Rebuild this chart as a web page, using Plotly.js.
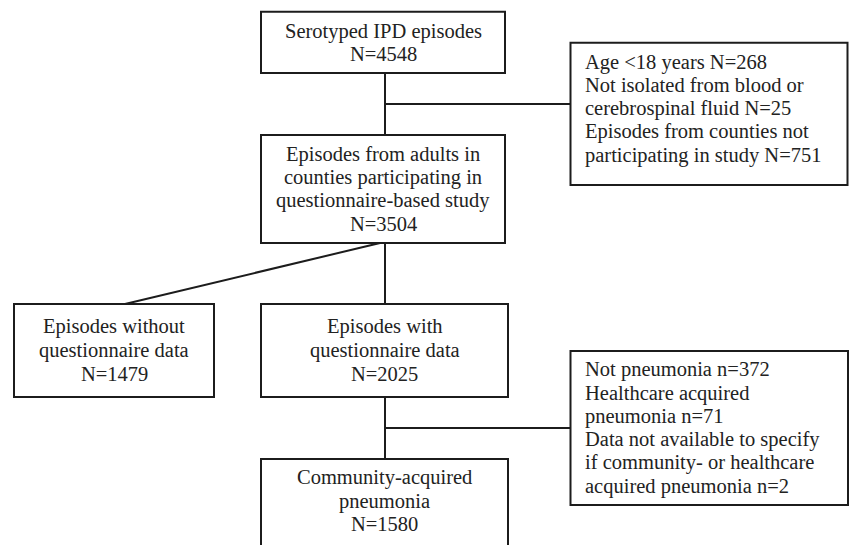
<!DOCTYPE html>
<html>
<head>
<meta charset="utf-8">
<script src="https://cdn.plot.ly/plotly-3.0.1.min.js"></script>
<style>html,body{margin:0;padding:0;background:#fff;}#chart{width:851px;height:545px;}</style>
</head>
<body>
<div id="chart"></div>
<script>
// ---- Data (text and counts) ----
const stageNames = [
  ["Serotyped IPD episodes"],
  ["Episodes from adults in", "counties participating in", "questionnaire-based study"],
  ["Episodes without", "questionnaire data"],
  ["Episodes with", "questionnaire data"],
  ["Community-acquired", "pneumonia"]
];
const stageCounts = [4548, 3504, 1479, 2025, 1580];

const exclusion1Lines = [
  ["Age <18 years N="],
  ["Not isolated from blood or", "cerebrospinal fluid N="],
  ["Episodes from counties not", "participating in study N="]
];
const exclusion1Counts = [268, 25, 751];

const exclusion2Lines = [
  ["Not pneumonia n="],
  ["Healthcare acquired", "pneumonia n="],
  ["Data not available to specify", "if community- or healthcare", "acquired pneumonia n="]
];
const exclusion2Counts = [372, 71, 2];

// ---- Layout geometry (pixel coordinates, y downward) ----
const geom = {
  stageBoxes: [
    [261, 11.7, 505, 73],
    [261, 135, 505, 243],
    [14, 304, 214, 397],
    [261, 304, 508, 397],
    [261, 459, 508, 575]
  ],
  stageTextY: [42.8, 189.2, 350.2, 350.2, 501],
  exclBoxes: [
    [570.5, 42.7, 847.5, 185],
    [570.5, 351, 848, 505]
  ],
  exclTextY: [108.6, 428],
  exclTextX: 582.5,
  lineStep: 23.3,
  connectors: [
    [385, 73, 385, 135],
    [385, 104, 570.5, 104],
    [385, 243, 385, 304],
    [380, 243, 125, 304],
    [385, 397, 385, 459],
    [385, 428, 570.5, 428]
  ]
};

const lineColor = "#1c1c1c";
const textColor = "#222222";
const fontFamily = "Liberation Serif, Times New Roman, serif";
const fontSize = 20.5;

const shapes = [];
const annotations = [];

function addBox(b) {
  shapes.push({type: "rect", xref: "x", yref: "y", x0: b[0], y0: b[1], x1: b[2], y1: b[3],
    line: {color: lineColor, width: 2}, fillcolor: "rgba(0,0,0,0)"});
}
function addLines(lines, x, yc, anchor) {
  const n = lines.length;
  lines.forEach((t, i) => {
    annotations.push({
      x: x, y: yc + (i - (n - 1) / 2) * geom.lineStep, xref: "x", yref: "y",
      text: t, showarrow: false, xanchor: anchor, yanchor: "middle", align: anchor,
      font: {family: fontFamily, size: fontSize, color: textColor}
    });
  });
}

// stage boxes
stageNames.forEach((name, k) => {
  const b = geom.stageBoxes[k];
  addBox(b);
  const lines = name.concat(["N=" + stageCounts[k]]);
  addLines(lines, (b[0] + b[2]) / 2, geom.stageTextY[k], "center");
});

// exclusion boxes
function buildExcl(groups, counts) {
  const out = [];
  groups.forEach((g, i) => {
    g.forEach((t, j) => out.push(j === g.length - 1 ? t + counts[i] : t));
  });
  return out;
}
[[exclusion1Lines, exclusion1Counts], [exclusion2Lines, exclusion2Counts]].forEach((pair, k) => {
  addBox(geom.exclBoxes[k]);
  addLines(buildExcl(pair[0], pair[1]), geom.exclTextX, geom.exclTextY[k], "left");
});

// connectors
geom.connectors.forEach(c => {
  shapes.push({type: "line", xref: "x", yref: "y", x0: c[0], y0: c[1], x1: c[2], y1: c[3],
    line: {color: lineColor, width: 2}});
});

const layout = {
  width: 851, height: 545,
  margin: {l: 0, r: 0, t: 0, b: 0, pad: 0},
  paper_bgcolor: "#ffffff", plot_bgcolor: "#ffffff",
  showlegend: false,
  xaxis: {range: [0, 851], visible: false, fixedrange: true},
  yaxis: {range: [545, 0], visible: false, fixedrange: true},
  shapes: shapes,
  annotations: annotations
};

Plotly.newPlot("chart", [{x: [], y: [], type: "scatter", mode: "markers", hoverinfo: "skip"}], layout,
  {displayModeBar: false, staticPlot: true});
</script>
</body>
</html>
